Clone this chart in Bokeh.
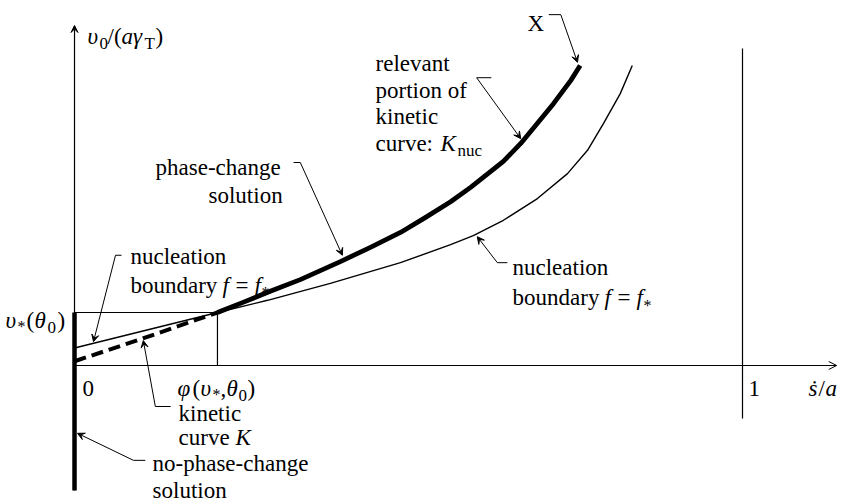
from bokeh.plotting import figure
from bokeh.models import ColumnDataSource, Arrow, VeeHead, OpenHead
from bokeh.embed import file_html
from bokeh.resources import INLINE
from bokeh.core.properties import value

# --- schematic quantities (x: s'/a, y: v0/(a*gamma_T), with v*(theta0) = 1) ---
phi_star = 0.214          # phi(v*, theta0)
v_star = 1.0              # v*(theta0)
x_unit = 1.0              # s'/a = 1

# kinetic curve K: dashed lower part below v*
kin_low_x = [0.0, 0.100, 0.214]
kin_low_y = [0.08, 0.50, 1.00]
# relevant portion of the kinetic curve, K_nuc (phase-change solution), ending at X
knuc_x = [0.214, 0.256, 0.293, 0.338, 0.398, 0.443, 0.488, 0.525, 0.563, 0.593,
          0.642, 0.668, 0.693, 0.717, 0.743, 0.757]
knuc_y = [1.00, 1.21, 1.40, 1.62, 1.96, 2.23, 2.51, 2.79, 3.09, 3.36,
          3.85, 4.19, 4.57, 4.94, 5.38, 5.66]
# nucleation boundary f = f*
nuc_x = [0.0, 0.214, 0.289, 0.383, 0.488, 0.563, 0.597, 0.642, 0.693, 0.738, 0.768,
         0.792, 0.817, 0.835]
nuc_y = [0.33, 1.00, 1.23, 1.55, 1.94, 2.28, 2.45, 2.74, 3.15, 3.62, 4.06,
         4.57, 5.13, 5.66]
# no-phase-change solution on the axis s'/a = 0
npc_y = [-2.36, 1.0]

# axis extents
y_axis_lo, y_axis_hi = -2.36, 6.415
x_axis_hi = 1.141
unit_line = [-1.0, 5.98]

BLACK = "#000000"
FONT = value("Liberation Serif")

p = figure(width=841, height=504, x_range=(-0.1108, 1.1482), y_range=(-2.623, 6.887),
           min_border=0, toolbar_location=None, output_backend="svg",
           x_axis_location=None, y_axis_location=None)
p.grid.visible = False
p.outline_line_color = None
p.background_fill_color = "white"
p.border_fill_color = "white"

# coordinate axes with arrowheads
p.add_layout(Arrow(end=VeeHead(size=7, line_color=BLACK, fill_color=BLACK, line_width=1),
                   x_start=0, y_start=y_axis_lo, x_end=0, y_end=y_axis_hi,
                   line_color=BLACK, line_width=1.2))
p.add_layout(Arrow(end=OpenHead(size=8, line_color=BLACK, line_width=1),
                   x_start=0, y_start=0, x_end=x_axis_hi, y_end=0,
                   line_color=BLACK, line_width=1.2))
# s'/a = 1
p.line([x_unit, x_unit], unit_line, line_color=BLACK, line_width=1.2)
# box marking v*(theta0) and phi(v*, theta0)
p.line([0, phi_star, phi_star], [v_star, v_star, 0], line_color=BLACK, line_width=1.2)

# curves
p.line(nuc_x, nuc_y, line_color=BLACK, line_width=1.4, line_join="round")
p.line(kin_low_x, kin_low_y, line_color=BLACK, line_width=4, line_dash="12 6")
p.line(knuc_x, knuc_y, line_color=BLACK, line_width=4.8, line_join="round")
p.line([0, 0], npc_y, line_color=BLACK, line_width=4.5)

# leader lines: short tick then arrow to the curve
ticks = dict(
    x0=[0.710, 0.602, 0.328, 0.0614, 0.121, 0.0883, 0.633],
    y0=[6.62, 5.43, 3.83, 2.08, -0.774, -1.79, 1.94],
    x1=[0.728, 0.624, 0.338, 0.0704, 0.144, 0.106, 0.648],
    y1=[6.62, 5.43, 3.83, 2.08, -0.774, -1.79, 1.94],
)
heads_x = [0.753, 0.668, 0.401, 0.0284, 0.103, 0.0045, 0.603]
heads_y = [5.72, 4.28, 2.08, 0.45, 0.47, -1.28, 2.43]
starts_x = [0.728, 0.602, 0.338, 0.0614, 0.121, 0.0883, 0.633]
starts_y = [6.62, 5.43, 3.83, 2.08, -0.774, -1.79, 1.94]
p.segment(x0="x0", y0="y0", x1="x1", y1="y1", source=ColumnDataSource(ticks),
          line_color=BLACK, line_width=1)
for xs, ys, xe, ye in zip(starts_x, starts_y, heads_x, heads_y):
    p.add_layout(Arrow(end=VeeHead(size=7, line_color=BLACK, fill_color=BLACK, line_width=1),
                       x_start=xs, y_start=ys, x_end=xe, y_end=ye,
                       line_color=BLACK, line_width=1))

# text: each label is a list of (text, dx px, dy px, size, style) pieces
BIG, SUB, AST = "23px", "17px", "16px"
labels = [
    ((0.0195, 6.21), [("υ", 0, 0, BIG, "italic"), ("0", 12, 7, SUB, "normal"),
                      ("/(", 20, 0, BIG, "normal"), ("aγ", 34, 0, BIG, "italic"),
                      ("T", 57, 7, SUB, "normal"), (")", 68, 0, BIG, "normal")]),
    ((0.678, 6.45), [("X", 0, 0, BIG, "normal")]),
    ((0.4506, 5.70), [("relevant", 0, 0, BIG, "normal")]),
    ((0.4506, 5.19), [("portion of", 0, 0, BIG, "normal")]),
    ((0.4506, 4.70), [("kinetic", 0, 0, BIG, "normal")]),
    ((0.4506, 4.19), [("curve:", 0, 0, BIG, "normal"), ("K", 65, 0, BIG, "italic"),
                      ("nuc", 82, 7, SUB, "normal")]),
    ((0.1213, 3.74), [("phase-change", 0, 0, BIG, "normal")]),
    ((0.2006, 3.21), [("solution", 0, 0, BIG, "normal")]),
    ((0.0838, 2.057), [("nucleation", 0, 0, BIG, "normal")]),
    ((0.0838, 1.509), [("boundary", 0, 0, BIG, "normal"), ("f", 92, 0, BIG, "italic"),
                       ("=", 105, 0, BIG, "normal"), ("f", 124, 0, BIG, "italic"),
                       ("*", 131, 7, AST, "normal")]),
    ((0.6557, 1.849), [("nucleation", 0, 0, BIG, "normal")]),
    ((0.6557, 1.283), [("boundary", 0, 0, BIG, "normal"), ("f", 92, 0, BIG, "italic"),
                       ("=", 105, 0, BIG, "normal"), ("f", 124, 0, BIG, "italic"),
                       ("*", 131, 8, AST, "normal")]),
    ((-0.1033, 0.849), [("υ", 0, 0, BIG, "italic"), ("*", 12, 6, AST, "normal"),
                        ("(", 21, 0, BIG, "normal"), ("θ", 29, 0, BIG, "italic"),
                        ("0", 42, 7, SUB, "normal"), (")", 52, 0, BIG, "normal")]),
    ((0.012, -0.434), [("0", 0, 0, BIG, "normal")]),
    ((0.1542, -0.434), [("φ", 0, 0, BIG, "italic"), ("(", 15, 0, BIG, "normal"),
                        ("υ", 23, 0, BIG, "italic"), ("*", 35, 6, AST, "normal"),
                        (",", 43, 0, BIG, "normal"), ("θ", 49, 0, BIG, "italic"),
                        ("0", 61, 7, SUB, "normal"), (")", 70, 0, BIG, "normal")]),
    ((0.1557, -0.906), [("kinetic", 0, 0, BIG, "normal")]),
    ((0.1557, -1.358), [("curve", 0, 0, BIG, "normal"), ("K", 57, 0, BIG, "italic")]),
    ((0.1168, -1.849), [("no-phase-change", 0, 0, BIG, "normal")]),
    ((0.1168, -2.358), [("solution", 0, 0, BIG, "normal")]),
    ((1.009, -0.434), [("1", 0, 0, BIG, "normal")]),
    ((1.0988, -0.434), [("ṡ", 0, 0, BIG, "italic"), ("/", 10, 0, BIG, "normal"),
                        ("a", 17, 0, BIG, "italic")]),
]

cols = dict(x=[], y=[], text=[], dx=[], dy=[], size=[], style=[])
for (lx, ly), pieces in labels:
    for t, dx, dy, size, style in pieces:
        cols["x"].append(lx)
        cols["y"].append(ly)
        cols["text"].append(t)
        cols["dx"].append(dx)
        cols["dy"].append(dy)
        cols["size"].append(size)
        cols["style"].append(style)

p.text(x="x", y="y", text="text", x_offset="dx", y_offset="dy",
       text_font_size="size", text_font_style="style", text_font=FONT,
       text_baseline="alphabetic", text_align="left", text_color=BLACK,
       source=ColumnDataSource(cols))

open("out.html", "w").write(file_html(p, INLINE))
